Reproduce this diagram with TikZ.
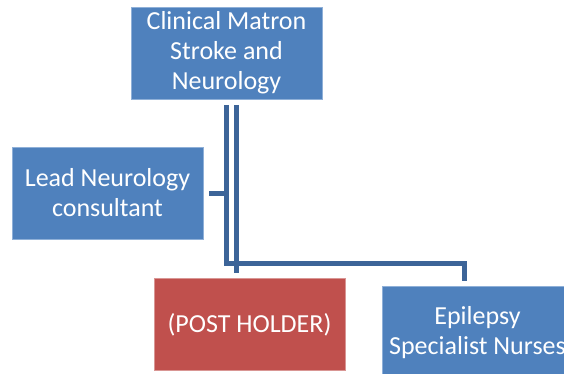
\documentclass[tikz,border=0pt]{standalone}
\usepackage{fontspec}
\setmainfont{Carlito}
\usepackage{xcolor}
\usetikzlibrary{positioning}
\definecolor{boxblue}{HTML}{4F81BD}
\definecolor{boxred}{HTML}{C0504D}
\definecolor{linkblue}{HTML}{3C6498}
\definecolor{boxedge}{HTML}{8FB0D8}

\begin{document}
\begin{tikzpicture}[
    x=1pt, y=-1pt,
    role/.style={
        rectangle, fill=boxblue, draw=boxedge, line width=0.6pt,
        minimum width=191pt, minimum height=92pt, inner sep=0pt,
        outer sep=6pt, align=center, text=white,
        font=\fontsize{26}{30}\selectfont},
    holder/.style={role, fill=boxred, draw=boxred!60!white},
    conn/.style={draw=linkblue, line width=5pt}]
\useasboundingbox (0,0) rectangle (564,374);

\node[role]   (matron)   at (226.5,53)    {Clinical Matron\\Stroke and\\Neurology};
\node[role]   (lead)     at (107.5,193)   {Lead Neurology\\consultant};
\node[holder] (post)     at (249.5,324.5) {(POST HOLDER)};
\node[role]   (epilepsy) at (477.5,332.5) {Epilepsy\\Specialist Nurses};

\coordinate (busend) at (464.5,263.5);
\coordinate (postdrop) at (236,0);

\path[conn] (matron.south) |- (busend) -- (busend |- epilepsy.north);
\path[conn] (lead.east) -- (lead.east -| matron.south);
\path[conn] (matron.south -| postdrop) -- (post.north -| postdrop);

\end{tikzpicture}
\end{document}
